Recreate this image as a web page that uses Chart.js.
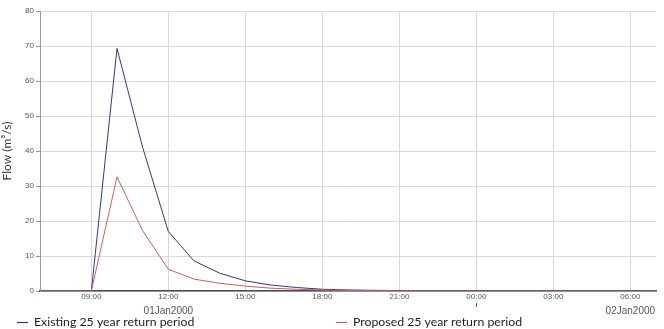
<!DOCTYPE html>
<html>
<head>
<meta charset="utf-8">
<script src="https://cdn.jsdelivr.net/npm/chart.js@4"></script>
<style>
  html, body { margin: 0; padding: 0; background: #fff; }
  #wrap { width: 664px; height: 329px; position: relative; }
</style>
</head>
<body>
<div id="wrap"><canvas id="flowChart" width="664" height="329"></canvas></div>
<script>
// hourly steps from 07:00 01Jan2000 to 07:00 02Jan2000
const hourLabels = ['07:00', '08:00', '09:00', '10:00', '11:00', '12:00', '13:00', '14:00', '15:00',
  '16:00', '17:00', '18:00', '19:00', '20:00', '21:00', '22:00', '23:00', '00:00', '01:00',
  '02:00', '03:00', '04:00', '05:00', '06:00', '07:00'];
const existingFlow = [0, 0, 0, 69.3, 41, 17, 8.6, 5.1, 2.9, 1.7, 1.0, 0.5, 0.3, 0.2, 0.1, 0.05,
  0, 0, 0, 0, 0, 0, 0, 0, 0];
const proposedFlow = [0, 0, 0, 32.6, 17.2, 6.2, 3.4, 2.2, 1.4, 0.8, 0.5, 0.3, 0.15, 0.1, 0.05, 0,
  0, 0, 0, 0, 0, 0, 0, 0, 0];
const tickHours = [2, 5, 8, 11, 14, 17, 20, 23];
const tickLabels = ['09:00', '12:00', '15:00', '18:00', '21:00', '00:00', '03:00', '06:00'];
const dayLabels = [{ at: 5, text: '01Jan2000' }, { at: 23, text: '02Jan2000' }];
const seriesNames = ['Existing 25 year return period', 'Proposed 25 year return period'];

const toPoints = (arr) => arr.map((v, i) => ({ x: i, y: v }));

const extraText = {
  id: 'extraText',
  afterDraw: (chart) => {
    const ctx = chart.ctx;
    const xs = chart.scales.x;
    ctx.save();
    // date labels under the hour ticks
    ctx.fillStyle = '#555';
    ctx.font = '10px "Liberation Sans Narrow", "Liberation Sans", Arial';
    ctx.textAlign = 'center';
    ctx.textBaseline = 'middle';
    dayLabels.forEach((d) => ctx.fillText(d.text, xs.getPixelForValue(d.at), 311));
    // day break mark under 00:00
    const mid = xs.getPixelForValue(17);
    ctx.strokeStyle = '#555';
    ctx.lineWidth = 1;
    ctx.beginPath();
    ctx.moveTo(Math.round(mid) + 0.5, 303);
    ctx.lineTo(Math.round(mid) + 0.5, 307);
    ctx.stroke();

    // legend
    ctx.font = '12.3px Lato, "Open Sans", sans-serif';
    ctx.textAlign = 'left';
    ctx.textBaseline = 'middle';
    const items = [{ x: 17, ds: chart.data.datasets[0] }, { x: 336, ds: chart.data.datasets[1] }];
    items.forEach((it) => {
      ctx.strokeStyle = it.ds.borderColor;
      ctx.lineWidth = 1.2;
      ctx.beginPath();
      ctx.moveTo(it.x, 322.5);
      ctx.lineTo(it.x + 11, 322.5);
      ctx.stroke();
      ctx.fillStyle = '#222';
      ctx.fillText(it.ds.label, it.x + 17, 322);
    });
    ctx.restore();
  }
};

new Chart(document.getElementById('flowChart'), {
  type: 'line',
  data: {
    datasets: [
      { label: seriesNames[0], data: toPoints(existingFlow), borderColor: '#34348a', borderWidth: 1, pointRadius: 0, tension: 0, order: 1 },
      { label: seriesNames[1], data: toPoints(proposedFlow), borderColor: '#c9625c', borderWidth: 1, pointRadius: 0, tension: 0, order: 0 }
    ]
  },
  options: {
    responsive: false,
    animation: false,
    layout: { padding: { top: 11, right: 8, left: 0, bottom: 0 } },
    plugins: { legend: { display: false }, tooltip: { enabled: false } },
    scales: {
      x: {
        type: 'linear',
        min: 0,
        max: 24,
        afterBuildTicks: (scale) => { scale.ticks = tickHours.map((v) => ({ value: v })); },
        afterFit: (scale) => { scale.height = 38; },
        ticks: {
          autoSkip: false,
          maxRotation: 0,
          padding: 1,
          color: '#555',
          font: { family: '"Liberation Sans Narrow", "Liberation Sans", Arial', size: 8 },
          callback: (v) => tickLabels[tickHours.indexOf(v)] || ''
        },
        grid: { color: '#d6d6d6', lineWidth: 1, drawTicks: false },
        border: { color: '#4a4a4a', width: 1.5 }
      },
      y: {
        min: 0,
        max: 80,
        afterFit: (scale) => { scale.width = 40; },
        ticks: {
          stepSize: 10,
          padding: 2,
          color: '#555',
          font: { family: '"Liberation Sans Narrow", "Liberation Sans", Arial', size: 8 }
        },
        grid: { color: '#d9d9d9', lineWidth: 1, tickLength: 4, tickColor: '#999' },
        border: { color: '#9a9a9a', width: 1 },
        title: {
          display: true,
          text: 'Flow (m³/s)',
          color: '#333',
          font: { family: 'Lato, "Open Sans", sans-serif', size: 12 },
          padding: { top: 0, bottom: 0 }
        }
      }
    }
  },
  plugins: [extraText]
});
</script>
</body>
</html>
